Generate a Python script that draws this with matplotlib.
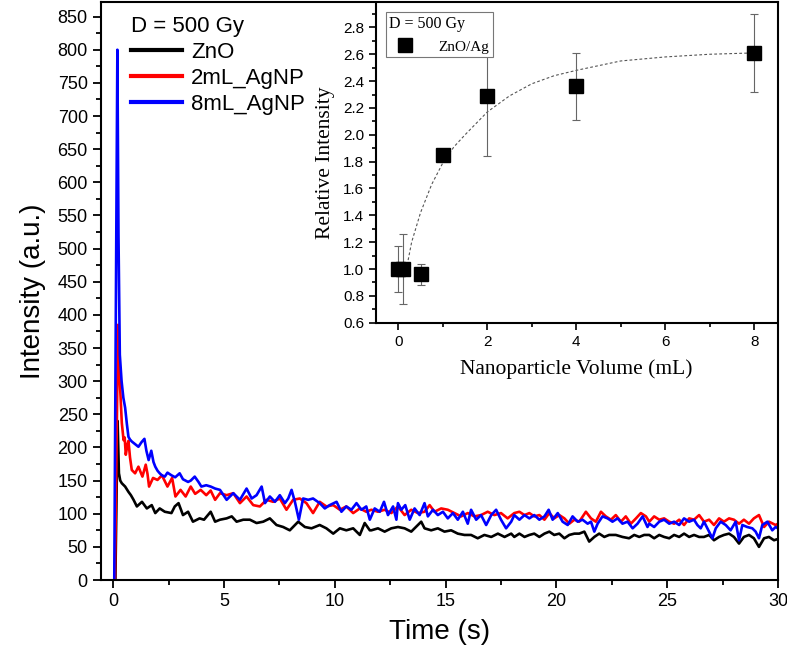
import matplotlib.pyplot as plt
from matplotlib.lines import Line2D
from matplotlib.ticker import MultipleLocator

# ---- main decay curves ----
t_zno = [0.1, 0.2, 0.26, 0.32, 0.39, 0.54, 0.69, 0.8, 0.92, 1.07, 1.3, 1.52, 1.74, 1.9, 2.1,
         2.33, 2.63, 2.78, 2.95, 3.15, 3.38, 3.6, 3.9, 4.1, 4.4, 4.6, 4.82,
         5.12, 5.35, 5.57, 5.87, 6.17, 6.47, 6.77, 7.07, 7.37, 7.67, 7.97, 8.35, 8.65, 8.95,
         9.32, 9.62, 9.93, 10.23, 10.52, 10.83, 11.13, 11.35, 11.58,
         11.65, 11.95, 12.25, 12.55, 12.85, 13.15, 13.45, 13.75, 13.9, 14.05, 14.35, 14.65,
         14.95, 15.25, 15.55, 15.85, 16.15, 16.45, 16.75, 17.06, 17.36, 17.66, 17.96,
         18.1, 18.33, 18.56, 18.78, 19.0, 19.23, 19.46, 19.68, 19.9, 20.13, 20.36, 20.58,
         20.81, 21.03, 21.26, 21.48, 21.71, 21.93, 22.16, 22.38, 22.68, 22.98, 23.28, 23.51,
         23.74, 23.96, 24.19, 24.41, 24.64, 24.86, 25.09, 25.31, 25.54, 25.76, 25.99, 26.21,
         26.44, 26.66, 26.89, 27.11, 27.34, 27.56, 27.79, 28.01, 28.24, 28.46, 28.69, 28.91,
         29.14, 29.37, 29.59, 29.82, 30.0]
i_zno = [0, 240, 161, 150, 146, 141, 133, 128, 121, 111, 118, 108, 113, 101, 108,
         103, 101, 111, 116, 98, 103, 88, 93, 91, 103, 88, 91,
         93, 96, 88, 91, 91, 86, 88, 93, 83, 80, 75, 88, 80, 78,
         83, 78, 70, 78, 75, 78, 68, 86, 75,
         75, 78, 73, 78, 80, 78, 73, 83, 88, 78, 75, 78,
         73, 75, 70, 68, 68, 63, 68, 65, 70, 65, 70,
         65, 70, 65, 68, 70, 65, 70, 73, 68, 70, 63, 68,
         70, 70, 73, 58, 65, 70, 65, 68, 68, 65, 63, 68,
         65, 68, 68, 63, 68, 65, 63, 68, 65, 70, 65, 68,
         65, 65, 68, 60, 65, 68, 70, 65, 55, 65, 68, 63,
         50, 63, 65, 60, 62]

t_2ml = [0.08, 0.22, 0.3, 0.39, 0.47, 0.52, 0.57, 0.65, 0.69, 0.76, 0.84, 0.99, 1.14, 1.32,
         1.47, 1.55, 1.62, 1.8, 2.0, 2.2, 2.45, 2.66, 2.81, 3.04, 3.27, 3.5, 3.7, 3.95, 4.2,
         4.4, 4.6, 4.82,
         5.12, 5.42, 5.72, 6.02, 6.32, 6.62, 6.92, 7.22, 7.52, 7.82, 8.12, 8.42, 8.72, 9.02,
         9.32, 9.62, 9.93, 10.23, 10.52, 10.83, 11.13, 11.42,
         11.65, 11.95, 12.25, 12.55, 12.85, 13.15, 13.45, 13.75, 14.05, 14.28, 14.5, 14.8,
         15.1, 15.4, 15.7, 16.0, 16.3, 16.6, 16.9, 17.2, 17.5, 17.8, 18.1,
         18.33, 18.56, 18.78, 19.0, 19.23, 19.46, 19.68, 19.9, 20.13, 20.36, 20.58, 20.81,
         21.03, 21.33, 21.56, 21.78, 22.01, 22.23, 22.46, 22.68, 22.91, 23.13, 23.36, 23.59,
         23.81, 24.04, 24.19, 24.41, 24.64, 24.86, 25.09, 25.31, 25.54, 25.76, 25.99, 26.21,
         26.44, 26.66, 26.89, 27.11, 27.34, 27.56, 27.79, 28.01, 28.24, 28.46, 28.69, 28.91,
         29.14, 29.37, 29.59, 29.89, 30.0]
i_2ml = [0, 385, 300, 237, 211, 215, 189, 205, 210, 185, 166, 161, 171, 156,
         174, 160, 141, 154, 151, 158, 141, 154, 126, 136, 126, 141, 130, 136, 128,
         135, 121, 131,
         128, 131, 116, 126, 113, 111, 121, 118, 123, 106, 121, 123, 116, 101,
         118, 111, 113, 106, 111, 101, 108, 103,
         106, 103, 106, 101, 111, 98, 106, 101, 103, 113, 103, 108,
         106, 101, 96, 101, 96, 98, 103, 98, 101, 93, 101,
         103, 98, 101, 96, 98, 91, 101, 93, 98, 93, 85, 91,
         88, 103, 93, 88, 103, 96, 91, 98, 88, 96, 85, 93,
         101, 96, 88, 96, 91, 93, 88, 85, 91, 83, 93, 91,
         98, 88, 91, 83, 93, 88, 93, 91, 85, 91, 85, 93,
         98, 80, 88, 83, 85]

t_8ml = [0.05, 0.19, 0.24, 0.3, 0.38, 0.46, 0.54, 0.62, 0.69, 0.76, 0.84, 0.99, 1.14, 1.28,
         1.41, 1.5, 1.6, 1.72, 1.82, 1.9, 2.0, 2.1, 2.2, 2.33, 2.45, 2.63, 2.8, 3.0, 3.15,
         3.38, 3.5, 3.68, 3.85, 3.98, 4.2, 4.4, 4.6, 4.82,
         5.12, 5.42, 5.72, 6.02, 6.25, 6.47, 6.7, 6.85, 7.07, 7.3, 7.52, 7.75, 7.9, 8.05,
         8.2, 8.38, 8.57, 8.8, 9.02, 9.32, 9.55, 9.77, 10.08, 10.3, 10.52, 10.75, 10.98,
         11.2, 11.42, 11.58,
         11.8, 12.03, 12.22, 12.4, 12.63, 12.78, 12.85, 13.0, 13.18, 13.38, 13.6, 13.83,
         14.05, 14.2, 14.43, 14.65, 14.88, 15.1, 15.33, 15.55, 15.78, 16.0, 16.15, 16.38,
         16.6, 16.83, 17.06, 17.28, 17.5, 17.73, 17.96,
         18.1, 18.33, 18.56, 18.78, 19.0, 19.23, 19.46, 19.65, 19.83, 20.06, 20.28, 20.51,
         20.73, 20.96, 21.18, 21.41, 21.56, 21.71, 21.86, 22.08, 22.31, 22.53, 22.76, 22.98,
         23.21, 23.44, 23.66, 23.89, 24.11,
         24.19, 24.41, 24.64, 24.86, 25.09, 25.31, 25.54, 25.76, 25.99, 26.21, 26.36, 26.51,
         26.66, 26.89, 27.04, 27.19, 27.41, 27.64, 27.86, 28.09, 28.24, 28.39, 28.61, 28.84,
         28.99, 29.14, 29.29, 29.52, 29.74, 29.89, 30.0]
i_8ml = [0, 800, 520, 340, 300, 275, 260, 235, 216, 212, 209, 205, 201, 208,
         213, 195, 181, 195, 178, 171, 165, 161, 158, 156, 162, 158, 155, 161, 152,
         148, 150, 156, 148, 141, 143, 141, 138, 136,
         121, 131, 121, 138, 123, 128, 141, 116, 126, 118, 128, 116, 123, 136,
         118, 91, 123, 121, 123, 116, 108, 113, 118, 103, 111, 106, 116,
         106, 111, 91,
         108, 103, 118, 98, 111, 91, 116, 106, 113, 91, 108, 98,
         116, 96, 106, 98, 103, 93, 101, 91, 103, 85, 106, 91,
         98, 83, 98, 106, 91, 78, 88,
         98, 91, 98, 93, 98, 91, 96, 106, 91, 101, 88, 83,
         96, 88, 91, 85, 88, 73, 85, 96, 93, 88, 93, 85,
         88, 78, 85, 96, 80,
         85, 80, 88, 91, 85, 88, 83, 93, 88, 91, 83, 78,
         88, 73, 63, 78, 88, 83, 75, 88, 60, 83, 80, 78,
         73, 63, 83, 88, 75, 80, 78]

# ---- inset: relative intensity vs nanoparticle volume ----
vol = [0, 0.1, 0.5, 1, 2, 4, 8]
rel = [1.0, 1.0, 0.96, 1.85, 2.29, 2.36, 2.61]
rel_err = [0.17, 0.26, 0.08, 0.04, 0.45, 0.25, 0.29]
fit_x = [0.2, 0.3, 0.5, 0.75, 1.0, 1.25, 1.5, 2.0, 2.5, 3.0, 3.5, 4.0, 5.0, 6.0, 7.0, 8.0]
fit_y = [1.03, 1.2, 1.42, 1.63, 1.79, 1.91, 2.0, 2.17, 2.29, 2.38, 2.44, 2.48, 2.55, 2.58, 2.60, 2.61]

plt.rcParams['font.family'] = ['Liberation Sans', 'DejaVu Sans']
fig = plt.figure(figsize=(7.87, 6.48), dpi=100)
ax = fig.add_axes([0.1283, 0.1049, 0.8603, 0.892])

ax.plot(t_zno, i_zno, color='black', lw=1.9, label='ZnO')
ax.plot(t_2ml, i_2ml, color='red', lw=1.9, label='2mL_AgNP')
ax.plot(t_8ml, i_8ml, color='blue', lw=1.9, label='8mL_AgNP')

ax.set_xlim(-0.55, 30)
ax.set_ylim(0, 872)
ax.xaxis.set_major_locator(MultipleLocator(5))
ax.xaxis.set_minor_locator(MultipleLocator(2.5))
ax.yaxis.set_major_locator(MultipleLocator(50))
ax.yaxis.set_minor_locator(MultipleLocator(25))
ax.tick_params(which='both', direction='out', width=1.3, labelsize=13)
ax.tick_params(which='major', length=6)
ax.tick_params(which='minor', length=3.5)
for s in ax.spines.values():
    s.set_linewidth(1.5)
ax.set_xlabel('Time (s)', fontsize=20, labelpad=6)
ax.set_ylabel('Intensity (a.u.)', fontsize=20, labelpad=8)

leg = ax.legend(title='D = 500 Gy', loc='upper left', frameon=False, fontsize=16,
                title_fontsize=16, handlelength=2.3, handletextpad=0.4,
                labelspacing=0.22, bbox_to_anchor=(0.015, 1.01))
leg._legend_box.align = 'left'
for line in leg.get_lines():
    line.set_linewidth(3)

# inset
ins = fig.add_axes([0.4778, 0.502, 0.509, 0.493])
ins.set_facecolor('none')
ins.plot(fit_x, fit_y, color='#555555', lw=0.8, ls=(0, (2.5, 2)))
ins.errorbar(vol, rel, yerr=rel_err, fmt='s', color='black', ms=10, ecolor='#666666',
             elinewidth=0.8, capsize=3, capthick=0.8)
ins.set_xlim(-0.5, 8.5)
ins.set_ylim(0.6, 2.98)
ins.xaxis.set_major_locator(MultipleLocator(2))
ins.xaxis.set_minor_locator(MultipleLocator(1))
ins.yaxis.set_major_locator(MultipleLocator(0.2))
ins.yaxis.set_minor_locator(MultipleLocator(0.1))
ins.tick_params(which='both', direction='out', width=1.2, labelsize=11)
ins.tick_params(which='major', length=5)
ins.tick_params(which='minor', length=3)
ins.spines['top'].set_visible(False)
ins.spines['right'].set_visible(False)
for s in ['left', 'bottom']:
    ins.spines[s].set_linewidth(1.5)
ins.set_xlabel('Nanoparticle Volume (mL)', fontsize=15.5, family='Liberation Serif', labelpad=8)
ins.set_ylabel('Relative Intensity', fontsize=15.5, family='Liberation Serif', labelpad=6)

handle = Line2D([], [], marker='s', color='black', ls='none', ms=10)
ileg = ins.legend(handles=[handle], labels=['ZnO/Ag'], title='D = 500 Gy', loc='upper left',
                  prop={'family': 'Liberation Serif', 'size': 11}, title_fontsize=11.5,
                  fancybox=False, edgecolor='#777777', framealpha=1, borderpad=0.25,
                  handletextpad=1.2, bbox_to_anchor=(0.005, 0.995))
ileg.get_title().set_family('Liberation Serif')
ileg._legend_box.align = 'left'
ileg.get_frame().set_linewidth(0.8)

fig.savefig('out.png', dpi=100)
